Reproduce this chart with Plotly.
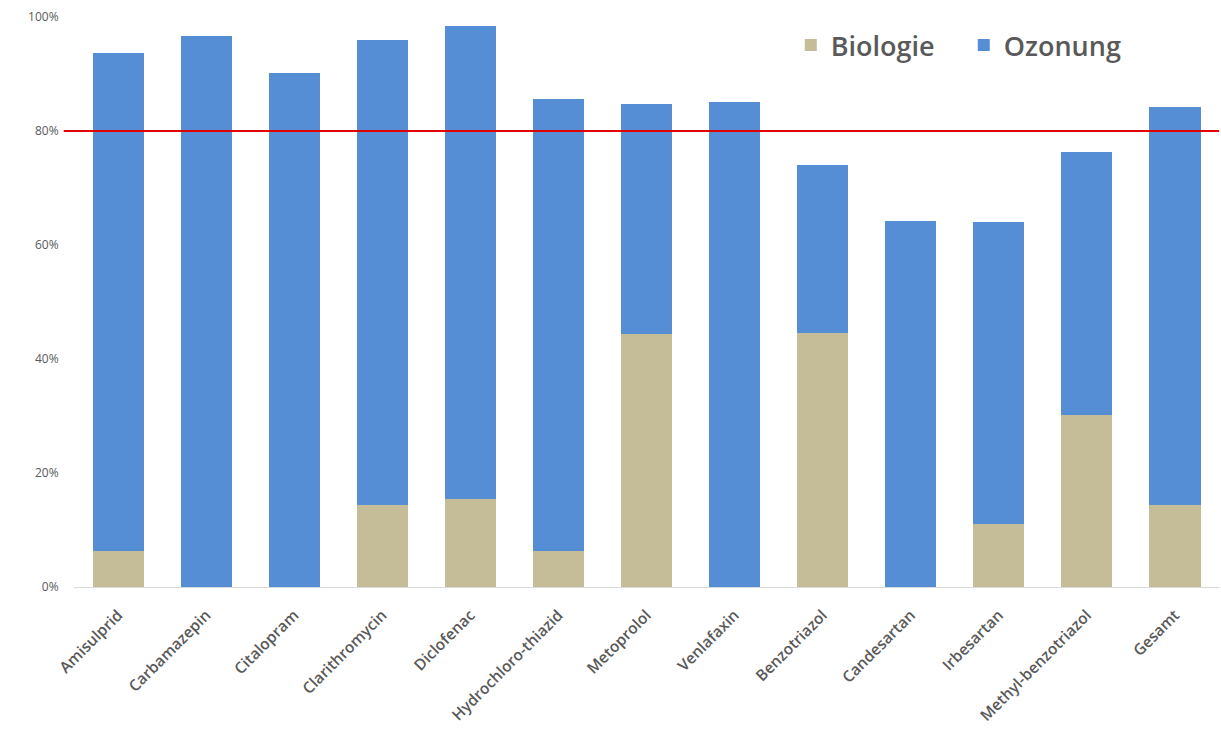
import plotly.graph_objects as go

categories = ["Amisulprid", "Carbamazepin", "Citalopram", "Clarithromycin", "Diclofenac",
              "Hydrochloro-thiazid", "Metoprolol", "Venlafaxin", "Benzotriazol", "Candesartan",
              "Irbesartan", "Methyl-benzotriazol", "Gesamt"]
biologie = [0.064, 0.0, 0.0, 0.143, 0.155, 0.063, 0.443, 0.0, 0.446, 0.0, 0.111, 0.301, 0.143]
ozonung = [0.872, 0.967, 0.901, 0.816, 0.829, 0.793, 0.405, 0.851, 0.295, 0.642, 0.530, 0.463, 0.699]
target = 0.80

fig = go.Figure()
fig.add_trace(go.Bar(x=categories, y=biologie, name="Biologie", marker_color="#c4bd97",
                     marker_line_width=0))
fig.add_trace(go.Bar(x=categories, y=ozonung, name="Ozonung", marker_color="#558ed5",
                     marker_line_width=0))

fig.add_shape(type="line", xref="paper", yref="y", x0=-0.009, x1=1.0, y0=target, y1=target,
              line=dict(color="#e00000", width=2), layer="above")

fig.update_layout(
    barmode="stack",
    bargap=0.42,
    width=1221, height=729,
    margin=dict(l=74, r=2, t=17, b=142),
    paper_bgcolor="white", plot_bgcolor="white",
    font=dict(family="Open Sans", color="#595959"),
    showlegend=True,
    legend=dict(orientation="h", x=0.626, y=0.993, xanchor="left", yanchor="top",
                font=dict(size=27, color="#595959", weight=600),
                itemwidth=30, entrywidth=128, entrywidthmode="pixels",
                traceorder="normal", bgcolor="rgba(0,0,0,0)"),
    xaxis=dict(showline=True, linecolor="#d9d9d9", linewidth=1, tickangle=-45,
               tickfont=dict(size=15.5, color="#595959", weight=600), showgrid=False,
               ticks="outside", ticklen=12, tickcolor="rgba(0,0,0,0)"),
    yaxis=dict(range=[0, 1], tickformat=".0%", dtick=0.2, showgrid=False, zeroline=False,
               showline=False, tickfont=dict(size=12, color="#595959"),
               ticks="outside", ticklen=12, tickcolor="rgba(0,0,0,0)"),
)

fig.write_html("out.html")
